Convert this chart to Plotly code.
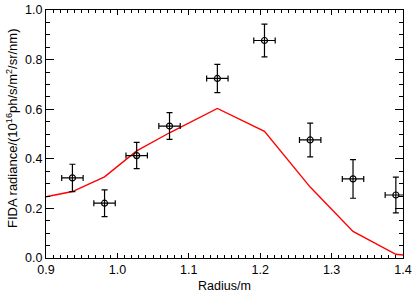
import plotly.graph_objects as go

# measured FIDA data
radius = [0.937, 0.982, 1.027, 1.073, 1.140, 1.206, 1.270, 1.330, 1.390]
radiance = [0.323, 0.221, 0.413, 0.532, 0.724, 0.877, 0.476, 0.319, 0.254]
radiance_err = [0.055, 0.054, 0.053, 0.054, 0.057, 0.066, 0.068, 0.078, 0.072]
radius_err = [0.015, 0.015, 0.015, 0.015, 0.015, 0.015, 0.015, 0.015, 0.015]

# synthetic (model) curve
model_radius = [0.9, 0.937, 0.982, 1.027, 1.073, 1.140, 1.206, 1.270, 1.330, 1.390, 1.4]
model_radiance = [0.247, 0.268, 0.327, 0.432, 0.505, 0.603, 0.511, 0.286, 0.107, 0.015, 0.012]

x_title = "Radius/m"
y_title = "FIDA radiance/(10<sup>16</sup>ph/s/m<sup>2</sup>/sr/nm)"

font_family = "Liberation Sans, Arial, Helvetica, sans-serif"

fig = go.Figure()
fig.add_trace(go.Scatter(
    x=model_radius, y=model_radiance, mode="lines",
    line=dict(color="#ff0000", width=1.4), showlegend=False,
))
fig.add_trace(go.Scatter(
    x=radius, y=radiance, mode="markers",
    marker=dict(symbol="circle-open", size=6, color="black", line=dict(width=1.2, color="black")),
    error_y=dict(type="data", array=radiance_err, color="black", thickness=1.2, width=3),
    error_x=dict(type="data", array=radius_err, color="black", thickness=1.2, width=3),
    showlegend=False,
))

axis_common = dict(
    showline=True, linecolor="black", linewidth=1, mirror="allticks",
    ticks="inside", tickcolor="black", showgrid=False, zeroline=False,
    ticklabeloverflow="allow",
    tickfont=dict(size=12.5, color="black", family=font_family),
)

W, H = 415, 292
L, R, T, B = 46, 9, 3, 34
pw, ph = W - L - R, H - T - B

fig.update_layout(
    width=W, height=H,
    margin=dict(l=L, r=R, t=T, b=B),
    paper_bgcolor="white", plot_bgcolor="white",
    font=dict(family=font_family, color="black", size=12),
    xaxis=dict(
        range=[0.9, 1.4], dtick=0.1, tick0=0.9, tickformat=".1f", ticklen=5,
        minor=dict(ticks="inside", dtick=0.01, ticklen=3, tickcolor="black"),
        **axis_common,
    ),
    yaxis=dict(
        range=[0.0, 1.0], dtick=0.2, tick0=0, tickformat=".1f", ticklen=8,
        minor=dict(ticks="inside", dtick=0.05, ticklen=4, tickcolor="black"),
        **axis_common,
    ),
    annotations=[
        dict(text=x_title, xref="paper", yref="paper",
             x=0.5, y=-(286.5 - (H - B)) / ph, xanchor="center", yanchor="middle",
             showarrow=False, font=dict(size=12.5, color="black", family=font_family)),
        dict(text=y_title, xref="paper", yref="paper", textangle=-90,
             x=-(L - 11) / pw, y=((H - B) - 125) / ph, xanchor="center", yanchor="middle",
             showarrow=False, font=dict(size=13, color="black", family=font_family)),
    ],
)

fig.write_html(
    "out.html",
    config={"displayModeBar": False},
    post_script="document.body.style.margin='0';document.body.style.padding='0';",
)
